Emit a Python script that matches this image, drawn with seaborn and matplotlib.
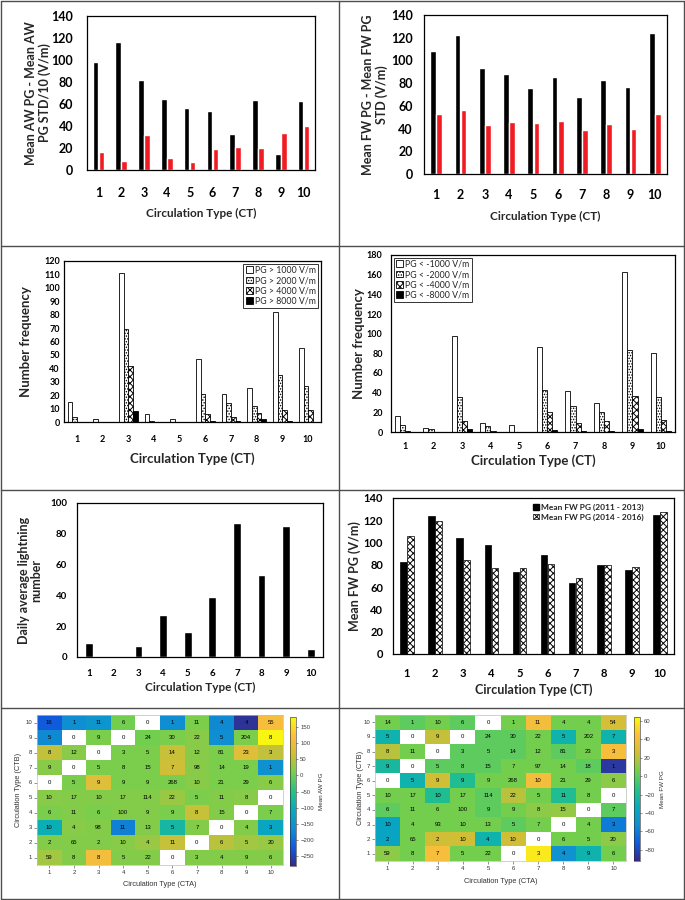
import numpy as np
import pandas as pd
import matplotlib
matplotlib.use("Agg")
import matplotlib.pyplot as plt
import seaborn as sns
from matplotlib.colors import LinearSegmentedColormap
from matplotlib.lines import Line2D
from matplotlib.patches import Patch

# ---------------- data ----------------
ct = [str(i) for i in range(1, 11)]

aw_mean_minus_std = [98, 116, 82, 65, 56, 54, 33, 64, 15, 63]
aw_std_10 = [16, 8, 32, 11, 7, 19, 21, 20, 34, 40]

fw_mean_minus_std = [108, 122, 93, 88, 76, 85, 68, 83, 77, 124]
fw_std = [53, 56, 43, 46, 45, 47, 39, 44, 40, 53]

pos_labels = ["PG > 1000 V/m", "PG > 2000 V/m", "PG > 4000 V/m", "PG > 8000 V/m"]
pos_1000 = [15, 2, 111, 6, 2, 47, 21, 25, 82, 55]
pos_2000 = [4, 0, 69, 1, 0, 21, 14, 12, 35, 27]
pos_4000 = [0, 0, 42, 0, 0, 6, 4, 7, 9, 9]
pos_8000 = [0, 0, 8, 0, 0, 1, 1, 2, 1, 0]

neg_labels = ["PG < -1000 V/m", "PG < -2000 V/m", "PG < -4000 V/m", "PG < -8000 V/m"]
neg_1000 = [16, 4, 98, 9, 7, 86, 42, 30, 163, 80]
neg_2000 = [7, 3, 36, 6, 0, 43, 26, 20, 83, 36]
neg_4000 = [1, 0, 11, 1, 0, 20, 9, 11, 37, 12]
neg_8000 = [0, 0, 3, 0, 0, 2, 1, 1, 3, 1]

lightning = [9, 0, 7, 27, 16, 39, 87, 53, 85, 5]

fw_labels = ["Mean FW PG (2011 - 2013)", "Mean FW PG (2014 - 2016)"]
fw_2011_2013 = [83, 124, 104, 98, 74, 89, 64, 80, 75, 125]
fw_2014_2016 = [106, 119, 84, 77, 77, 81, 68, 80, 78, 127]

cta = [str(i) for i in range(1, 11)]
ctb = [str(i) for i in range(10, 0, -1)]   # rows top -> bottom

aw_counts = [
    [16, 1, 11, 6, 0, 1, 11, 4, 4, 55],
    [5, 0, 9, 0, 24, 30, 22, 5, 204, 8],
    [8, 12, 0, 3, 5, 14, 12, 81, 23, 3],
    [9, 0, 5, 8, 15, 7, 98, 14, 19, 1],
    [0, 5, 9, 9, 9, 268, 10, 21, 29, 6],
    [10, 17, 10, 17, 114, 22, 5, 11, 8, 0],
    [6, 11, 6, 100, 9, 9, 8, 15, 0, 7],
    [10, 4, 98, 11, 13, 5, 7, 0, 4, 3],
    [2, 65, 2, 10, 4, 11, 0, 6, 5, 20],
    [59, 8, 8, 5, 22, 0, 3, 4, 9, 6],
]
nan = np.nan
aw_mean = [
    [-225, -165, -150, 5, nan, -165, 10, -170, -270, 112],
    [-170, nan, 10, nan, 5, 10, 20, -165, 10, 175],
    [55, 20, nan, 10, 10, 60, 20, 10, 85, 55],
    [20, nan, 10, 10, 10, 65, 20, 10, 10, -160],
    [nan, 10, 85, 10, 10, 10, 20, 10, 10, 20],
    [20, 15, 15, 15, 15, 30, 10, 15, 20, nan],
    [10, 15, 10, 15, 15, 10, 60, 15, nan, 10],
    [-100, 20, 15, -180, 15, -80, 15, nan, 15, -120],
    [15, 15, 15, 20, 30, 60, nan, 50, 35, 30],
    [35, 15, 110, 15, 15, nan, 15, 15, 15, 15],
]

fw_counts = [
    [14, 1, 10, 6, 0, 1, 11, 4, 4, 54],
    [5, 0, 9, 0, 24, 30, 22, 5, 202, 7],
    [8, 11, 0, 3, 5, 14, 12, 81, 23, 3],
    [9, 0, 5, 8, 15, 7, 97, 14, 18, 1],
    [0, 5, 9, 9, 9, 268, 10, 21, 29, 6],
    [10, 17, 10, 17, 114, 22, 5, 11, 8, 0],
    [6, 11, 6, 100, 9, 9, 8, 15, 0, 7],
    [10, 4, 93, 10, 13, 5, 7, 0, 4, 3],
    [2, 65, 2, 10, 4, 10, 0, 6, 5, 20],
    [59, 8, 7, 5, 22, 0, 3, 4, 9, 6],
]
fw_mean = [
    [5, 0, 5, 0, nan, 5, 40, 5, 5, 28],
    [-28, nan, 22, nan, 0, 0, 5, -28, 5, -28],
    [20, 5, nan, 0, 0, 0, 5, 0, 5, 42],
    [-22, nan, 0, 0, 0, 5, 5, 5, 0, -86],
    [nan, -28, 25, -18, 5, 5, 40, 5, 5, 10],
    [5, 5, -18, 5, 0, 20, 5, -18, 5, nan],
    [0, 5, 5, 5, 0, 5, 10, 12, nan, 0],
    [-38, 5, 5, 5, 5, 0, 5, nan, 5, -60],
    [-38, 5, 25, 25, -28, 25, nan, 5, 5, 10],
    [10, 5, 42, 5, 5, nan, 58, -50, -28, 5],
]

# ---------------- style ----------------
sns.set_theme(style="white")
plt.rcParams["font.family"] = ["Lato", "DejaVu Sans"]
plt.rcParams["font.weight"] = "bold"
plt.rcParams["axes.labelweight"] = "bold"
plt.rcParams["hatch.linewidth"] = 0.7

HFONT = ["Liberation Sans", "DejaVu Sans"]

parula = LinearSegmentedColormap.from_list("parula", [
    (0.000, (0.2081, 0.1663, 0.5292)),
    (0.125, (0.0594, 0.3598, 0.8683)),
    (0.250, (0.0641, 0.5557, 0.8240)),
    (0.375, (0.0281, 0.6700, 0.7400)),
    (0.500, (0.1500, 0.7600, 0.5300)),
    (0.625, (0.4600, 0.8100, 0.3000)),
    (0.750, (0.8161, 0.7458, 0.2160)),
    (0.875, (0.9932, 0.7451, 0.2386)),
    (1.000, (0.9763, 0.9831, 0.0538)),
])

fig = plt.figure(figsize=(6.85, 9.0), dpi=100)
W, H = 685.0, 900.0


def px_axes(x0, y0, x1, y1):
    return fig.add_axes([x0 / W, 1 - y1 / H, (x1 - x0) / W, (y1 - y0) / H])


def long_df(names, series):
    rows = []
    for name, vals in zip(names, series):
        for c, v in zip(ct, vals):
            rows.append((c, name, v))
    return pd.DataFrame(rows, columns=["CT", "series", "value"])


def style_bar_ax(ax, ylim, ystep, tick_fs, xpad, ypad, xlabel, ylabel,
                 xl_fs, yl_fs, ylab_x, xlab_y):
    ax.set_ylim(*ylim)
    ax.set_yticks(np.arange(ylim[0], ylim[1] + 0.1, ystep))
    ax.tick_params(axis="both", length=0, labelsize=tick_fs, colors="black")
    ax.tick_params(axis="x", pad=xpad)
    ax.tick_params(axis="y", pad=ypad)
    for s in ax.spines.values():
        s.set_visible(True)
        s.set_color("black")
        s.set_linewidth(0.9)
    ax.set_xlabel(xlabel, fontsize=xl_fs, fontweight="bold")
    ax.set_ylabel(ylabel, fontsize=yl_fs, fontweight="bold", linespacing=1.1)
    ax.yaxis.set_label_coords(ylab_x, 0.5)
    ax.xaxis.set_label_coords(0.5, xlab_y)
    ax.xaxis.label.set_va("top")


# ---------- Panel 1 ----------
ax1 = px_axes(87, 16, 315, 170)
df1 = long_df(["a", "b"], [aw_mean_minus_std, aw_std_10])
sns.barplot(data=df1, x="CT", y="value", hue="series", order=ct, hue_order=["a", "b"],
            palette=["black", "#f01c24"], saturation=1, width=0.52, gap=0.06,
            legend=False, ax=ax1)
style_bar_ax(ax1, (0, 140), 20, 9, 12, 10, "Circulation Type (CT)",
             "Mean AW PG - Mean AW\nPG STD/10 (V/m)", 8.5, 9, -0.16, -0.245)

# ---------- Panel 2 ----------
ax2 = px_axes(424, 15, 667, 174)
df2 = long_df(["a", "b"], [fw_mean_minus_std, fw_std])
sns.barplot(data=df2, x="CT", y="value", hue="series", order=ct, hue_order=["a", "b"],
            palette=["black", "#f01c24"], saturation=1, width=0.5, gap=0.06,
            legend=False, ax=ax2)
style_bar_ax(ax2, (0, 140), 20, 9, 11, 8, "Circulation Type (CT)",
             "Mean FW PG - Mean FW PG\nSTD (V/m)", 8.5, 9, -0.15, -0.235)


def hatch_bars(ax, specs, lw=0.6):
    for cont, (fc, hatch) in zip(ax.containers, specs):
        for p in cont:
            p.set_facecolor(fc)
            p.set_edgecolor("black")
            p.set_linewidth(lw)
            p.set_hatch(hatch)


quad_specs = [("white", ""), ("white", "......"), ("white", "xxxxx"), ("black", "")]

# ---------- Panel 3 ----------
ax3 = px_axes(64, 261, 321, 422)
df3 = long_df(pos_labels, [pos_1000, pos_2000, pos_4000, pos_8000])
sns.barplot(data=df3, x="CT", y="value", hue="series", order=ct, hue_order=pos_labels,
            palette=["white"] * 4, saturation=1, width=0.72, gap=0.0,
            legend=False, ax=ax3)
hatch_bars(ax3, quad_specs)
style_bar_ax(ax3, (0, 120), 10, 6.5, 9, 3, "Circulation Type (CT)",
             "Number frequency", 9.5, 9.5, -0.125, -0.19)
h3 = [Patch(facecolor=fc, edgecolor="black", hatch=h, linewidth=0.6, label=l)
      for (fc, h), l in zip(quad_specs, pos_labels)]
leg3 = ax3.legend(handles=h3, loc="upper right", frameon=True,
                  fancybox=False, edgecolor="black", handlelength=0.8, handleheight=0.8,
                  handletextpad=0.3, labelspacing=0.15, borderpad=0.25,
                  borderaxespad=0.3, prop={"weight": "normal", "size": 6.3})
leg3.get_frame().set_linewidth(0.7)

# ---------- Panel 4 ----------
ax4 = px_axes(391, 255, 675, 432)
df4 = long_df(neg_labels, [neg_1000, neg_2000, neg_4000, neg_8000])
sns.barplot(data=df4, x="CT", y="value", hue="series", order=ct, hue_order=neg_labels,
            palette=["white"] * 4, saturation=1, width=0.72, gap=0.0,
            legend=False, ax=ax4)
hatch_bars(ax4, quad_specs)
style_bar_ax(ax4, (0, 180), 20, 6.5, 7, 6, "Circulation Type (CT)",
             "Number frequency", 9.5, 9.5, -0.09, -0.125)
h4 = [Patch(facecolor=fc, edgecolor="black", hatch=h, linewidth=0.6, label=l)
      for (fc, h), l in zip(quad_specs, neg_labels)]
leg4 = ax4.legend(handles=h4, loc="upper left", frameon=True,
                  fancybox=False, edgecolor="black", handlelength=0.8, handleheight=0.8,
                  handletextpad=0.3, labelspacing=0.15, borderpad=0.25,
                  borderaxespad=0.3, prop={"weight": "normal", "size": 6.3})
leg4.get_frame().set_linewidth(0.7)

# ---------- Panel 5 ----------
ax5 = px_axes(77, 503, 323, 657)
sns.barplot(x=ct, y=lightning, order=ct, color="black", saturation=1, width=0.32, ax=ax5)
style_bar_ax(ax5, (0, 100), 20, 7, 9, 7, "Circulation Type (CT)",
             "Daily average lightning\nnumber", 8.5, 9, -0.14, -0.165)

# ---------- Panel 6 ----------
ax6 = px_axes(393, 498, 674, 654)
df6 = long_df(fw_labels, [fw_2011_2013, fw_2014_2016])
sns.barplot(data=df6, x="CT", y="value", hue="series", order=ct, hue_order=fw_labels,
            palette=["black", "white"], saturation=1, width=0.5, gap=0.06,
            legend=False, ax=ax6)
hatch_bars(ax6, [("black", ""), ("white", "xxxxx")], lw=0.5)
style_bar_ax(ax6, (0, 140), 20, 8, 10, 7, "Circulation Type (CT)",
             "Mean FW PG (V/m)", 9, 9, -0.115, -0.19)
h6 = [Patch(facecolor="black", edgecolor="black", label=fw_labels[0]),
      Patch(facecolor="white", edgecolor="black", hatch="xxxxx", linewidth=0.5,
            label=fw_labels[1])]
ax6.legend(handles=h6, loc="upper right", bbox_to_anchor=(0.905, 0.985),
           frameon=False, handlelength=0.7, handleheight=0.7, handletextpad=0.3,
           labelspacing=0.3, borderaxespad=0.2, borderpad=0.2,
           prop={"weight": "bold", "size": 6.0})


# ---------- Heatmaps ----------
def heat(ax, cax, vals, counts, vmin, vmax, ticks, cbar_label, ylab_x, xlab_y):
    cnt = np.array(counts)
    dfv = pd.DataFrame(vals, index=ctb, columns=cta)
    sns.heatmap(dfv, ax=ax, cmap=parula, vmin=vmin, vmax=vmax, annot=cnt, fmt="d",
                annot_kws={"fontsize": 4.3, "color": "black", "fontweight": "normal",
                           "family": HFONT},
                xticklabels=cta, yticklabels=ctb,
                cbar_ax=cax, cbar_kws={"ticks": ticks}, linewidths=0)
    ax.set_facecolor("white")
    for i, j in zip(*np.where(cnt == 0)):
        ax.text(j + 0.5, i + 0.5, str(cnt[i, j]), ha="center", va="center",
                fontsize=4.3, fontweight="normal", color="black", family=HFONT)
    ax.tick_params(axis="both", length=2, width=0.4, labelsize=4.3, pad=1.5,
                   colors="0.25", bottom=True, left=True)
    ax.tick_params(axis="y", labelrotation=0)
    ax.tick_params(axis="x", labelrotation=0)
    for lab in ax.get_xticklabels() + ax.get_yticklabels():
        lab.set_fontweight("normal")
        lab.set_family(HFONT)
        lab.set_color("0.2")
    for s in ax.spines.values():
        s.set_visible(True)
        s.set_color("0.75")
        s.set_linewidth(0.5)
    ax.set_xlabel("Circulation Type (CTA)", fontsize=5.3, fontweight="normal",
                  family=HFONT, color="0.2")
    ax.set_ylabel("Circulation Type (CTB)", fontsize=5.3, fontweight="normal",
                  family=HFONT, color="0.2")
    ax.yaxis.set_label_coords(ylab_x, 0.5)
    ax.xaxis.set_label_coords(0.5, xlab_y)
    ax.xaxis.label.set_va("top")
    cax.tick_params(labelsize=4.3, length=1.5, width=0.4, pad=1.5, colors="0.25")
    for lab in cax.get_yticklabels():
        lab.set_fontweight("normal")
        lab.set_family(HFONT)
    for s in cax.spines.values():
        s.set_linewidth(0.4)
    cax.set_ylabel(cbar_label, fontsize=4.5, fontweight="normal", rotation=90,
                   family=HFONT, color="0.2", labelpad=4)


axh1 = px_axes(37, 715, 283, 865)
cax1 = px_axes(290, 717, 296, 866)
heat(axh1, cax1, aw_mean, aw_counts, -281, 181, [-250, -200, -150, -100, -50, 0, 50, 100, 150],
     "Mean AW PG", -0.06, -0.11)

axh2 = px_axes(375, 715, 626, 861)
cax2 = px_axes(634, 717, 640, 861)
heat(axh2, cax2, fw_mean, fw_counts, -92, 64, [-80, -60, -40, -20, 0, 20, 40, 60],
     "Mean FW PG", -0.045, -0.115)

# ---------- panel frame lines ----------
def fline(x0, y0, x1, y1):
    fig.add_artist(Line2D([x0 / W, x1 / W], [1 - y0 / H, 1 - y1 / H],
                          transform=fig.transFigure, color="0.3", lw=1.0))

fline(1, 1, 684, 1)
fline(1, 899, 684, 899)
fline(1, 1, 1, 899)
fline(684, 1, 684, 899)
fline(339, 1, 339, 899)
fline(1, 246, 684, 246)
fline(1, 490, 684, 490)
fline(1, 708, 684, 708)

fig.savefig("out.png", dpi=100, facecolor="white")
